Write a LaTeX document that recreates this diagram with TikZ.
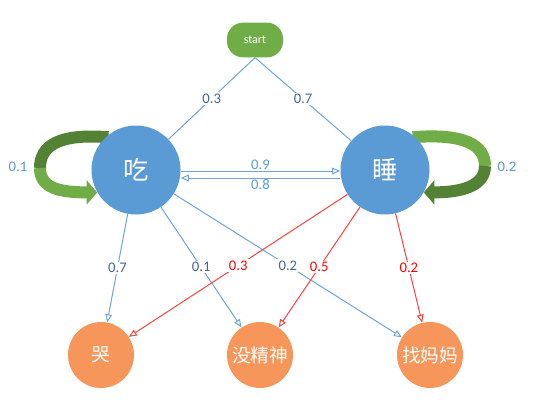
\documentclass[tikz,border=0pt]{standalone}
\usepackage{fontspec}
\setmainfont{Carlito}
\newfontfamily\cjk{Noto Sans CJK SC}
\usetikzlibrary{arrows.meta,positioning,shapes,backgrounds}

\definecolor{stateblue}{HTML}{5B9BD5}
\definecolor{obsorange}{HTML}{F7965A}
\definecolor{startgreen}{HTML}{70AD47}
\definecolor{loopdark}{HTML}{548235}
\definecolor{lineblue}{HTML}{6FA3DA}
\definecolor{linered}{HTML}{FF4040}
\definecolor{labeldark}{HTML}{44679A}
\definecolor{labellight}{HTML}{5B9BD5}

\begin{document}
\begin{tikzpicture}[x=0.75pt, y=-0.75pt,
    state/.style={circle, fill=stateblue, text=white, minimum size=66.75pt, inner sep=0pt, font=\cjk\fontsize{19}{22}\selectfont},
    obs/.style={circle, fill=obsorange, text=white, minimum size=49.5pt, inner sep=0pt, font=\cjk\fontsize{14}{16}\selectfont},
    plain/.style={draw=lineblue, line width=0.75pt},
    trans/.style={plain, -{Triangle[open,length=6pt,width=5pt]}},
    emit/.style={draw=linered, line width=0.75pt, -{Triangle[open,length=6pt,width=5pt]}},
    prob/.style={fill=white, inner sep=1pt, font=\fontsize{11}{13}\selectfont},
    loopband/.style={line width=9pt}
  ]
      \useasboundingbox (0,0) rectangle (554,405);

      % States
      \node[rectangle, rounded corners=12pt, fill=startgreen, text=white, minimum width=42pt, minimum height=26pt, font=\fontsize{9}{10}\selectfont] (start) at (255,40) {start};
      \node[state] (eat) at (136,170) {吃};
      \node[state] (sleep) at (385,170) {睡};

      % Observations
      \node[obs] (cry) at (101,355) {哭};
      \node[obs] (tired) at (260,355) {没精神};
      \node[obs] (mom) at (430,355) {找妈妈};

      % Self loops
      \coordinate (loopL) at (40,168);
      \coordinate (loopR) at (485,166);
      \begin{scope}[on background layer]
        \draw[loopband, loopdark] ([xshift=5pt,yshift=3pt]eat.140) .. controls +(-50,-4) and +(0,-22) .. (loopL);
        \draw[loopband, startgreen, -{Triangle[length=8pt,width=18pt]}] (loopL) .. controls +(0,20) and +(-38,0) .. (eat.210);
        \draw[loopband, startgreen] ([xshift=-5pt,yshift=3pt]sleep.40) .. controls +(50,-4) and +(0,-22) .. (loopR);
        \draw[loopband, loopdark, -{Triangle[length=8pt,width=18pt]}] (loopR) .. controls +(0,20) and +(38,0) .. (sleep.-30);
      \end{scope}
      \node[text=labellight, font=\fontsize{11}{13}\selectfont] (pEE) at (18,167) {0.1};
      \node[text=labellight, font=\fontsize{11}{13}\selectfont] (pSS) at (507,167) {0.2};

      % Start probabilities
      \draw[plain] (start.south) -- node[prob, text=labeldark] {0.3} (eat);
      \draw[plain] (start.south) -- node[prob, text=labeldark] {0.7} (sleep);

      % Transitions
      \draw[trans] ([yshift=-0.75pt]eat.east) -- node[prob, above, text=labellight] {0.9} ([yshift=-0.75pt]sleep.west);
      \draw[trans] ([yshift=-6pt]sleep.west) -- node[prob, below, text=labellight] {0.8} ([yshift=-6pt]eat.east);

      % Emissions
      \draw[trans] (eat) -- node[prob, text=labeldark] {0.7} (cry);
      \draw[trans] (eat) -- node[prob, text=labeldark] {0.1} (tired);
      \draw[trans] (eat) -- node[prob, text=labeldark] {0.2} (mom);
      \draw[emit] (sleep) -- node[prob, text=red] {0.3} (cry);
      \draw[emit] (sleep) -- node[prob, text=red] {0.5} (tired);
      \draw[emit] (sleep) -- node[prob, text=red] {0.2} (mom);
\end{tikzpicture}
\end{document}
